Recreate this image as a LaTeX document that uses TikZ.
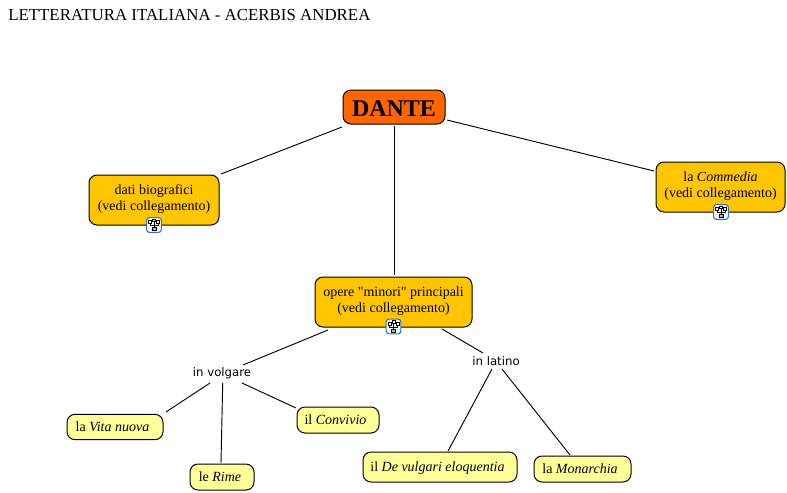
\documentclass[tikz,border=0pt]{standalone}
\usepackage{fontspec}
\setmainfont{Liberation Serif}
\newfontfamily\plainserif{Liberation Serif}
\newfontfamily\labfont{DejaVu Sans}
\usetikzlibrary{calc}
\definecolor{topfill}{HTML}{FF6600}
\definecolor{midfill}{HTML}{FFC600}
\definecolor{leaf}{HTML}{FFFF99}
\definecolor{iconblue}{HTML}{2F6FC0}
\newcommand{\dropstrut}{\rule[-3.5pt]{0pt}{1pt}}
\newcommand{\leafstrut}{\rule[-2.3pt]{0pt}{11.3pt}}
\tikzset{
 px/.style={x=0.75pt,y=-0.75pt},
 box/.style={draw=black,line width=0.75pt,rounded corners=6pt,align=center,inner sep=0pt,font=\fontsize{10.5pt}{12pt}\selectfont,text=black},
 mainbox/.style={box,fill=topfill,font=\fontsize{18pt}{20pt}\selectfont\bfseries},
 midbox/.style={box,fill=midfill},
 leafbox/.style={box,fill=leaf},
 lab/.style={font=\labfont\fontsize{8.8pt}{10pt}\selectfont,inner sep=1pt},
 link/.style={draw=black,line width=0.7pt},
 iconnode/.style={draw=iconblue,fill=white,line width=0.8pt,rounded corners=2pt,minimum width=11pt,minimum height=11pt,inner sep=0pt},
}
\newcommand{\orgicon}[2]{%
 \node[iconnode] (#1) at (#2) {};
 \draw[black,line width=0.4pt] ($(#1)+(0,-2pt)$) -- ($(#1)+(0,2.5pt)$) ($(#1)+(-3pt,1pt)$) -- ($(#1)+(-3pt,-0.5pt)$) -- ($(#1)+(3pt,-0.5pt)$) -- ($(#1)+(3pt,1pt)$);
 \draw[black,line width=0.4pt,fill=iconblue!50] ($(#1)+(-1.4pt,-4.2pt)$) rectangle ($(#1)+(1.4pt,-2pt)$);
 \draw[black,line width=0.4pt,fill=white] ($(#1)+(-4.2pt,1pt)$) rectangle ($(#1)+(-2pt,3.2pt)$) ($(#1)+(2pt,1pt)$) rectangle ($(#1)+(4.2pt,3.2pt)$) ($(#1)+(-1pt,2.5pt)$) rectangle ($(#1)+(1pt,4.4pt)$);
}
\begin{document}
\begin{tikzpicture}[px]
\useasboundingbox (0,0) rectangle (787,492);
\node[anchor=base west,inner sep=0pt,font=\fontsize{12.65pt}{14pt}\selectfont] (title) at (8,21) {LETTERATURA ITALIANA - ACERBIS ANDREA};

\node[mainbox,minimum width=76.5pt,minimum height=25.5pt] (dante) at (394,107) {\rule{0pt}{13.6pt}DANTE};
\node[midbox,minimum width=97.5pt,minimum height=37.5pt] (bio) at (154,200) {dati biografici\\(vedi collegamento)\dropstrut};
\node[midbox,minimum width=96.75pt,minimum height=37.5pt] (comm) at (720.5,187) {la \textit{Commedia}\\(vedi collegamento)\dropstrut};
\node[midbox,minimum width=117.75pt,minimum height=37.5pt] (opere) at (393.5,302) {opere {\plainserif"}minori{\plainserif"} principali\\(vedi collegamento)\dropstrut};
\node[lab] (volg) at (222,373) {in volgare};
\node[lab] (lat) at (496,361) {in latino};
\node[leafbox,minimum width=72pt,minimum height=19pt] (vita) at (115,427) {\leafstrut la \textit{Vita nuova}\hspace*{3.75pt}};
\node[leafbox,minimum width=48pt,minimum height=19.5pt] (rime) at (222,477) {\leafstrut le \textit{Rime}\hspace*{3pt}};
\node[leafbox,minimum width=61.5pt,minimum height=19.5pt] (conv) at (338,420) {\leafstrut il \textit{Convivio}\hspace*{3.75pt}};
\node[leafbox,minimum width=115.5pt,minimum height=22.5pt] (dev) at (440,467) {\leafstrut il \textit{De vulgari eloquentia}\hspace*{3.75pt}};
\node[leafbox,minimum width=72.75pt,minimum height=19.5pt] (mon) at (582.5,469) {\leafstrut la \textit{Monarchia}\hspace*{3.75pt}};

\coordinate (dB) at (342,127);
\coordinate (bD) at (221,174);
\coordinate (dC) at (447,120);
\coordinate (cD) at (654,171);
\coordinate (dO) at (394,126);
\coordinate (oD) at (394,275);
\coordinate (oV) at (328,330);
\coordinate (vO) at (243,365);
\coordinate (oL) at (442,329);
\coordinate (lO) at (483,353);
\coordinate (vA) at (210,383);
\coordinate (aV) at (166,412);
\coordinate (vB) at (222.7,383);
\coordinate (bV) at (221,463);
\coordinate (vC) at (242,383);
\coordinate (cV) at (296,408);
\coordinate (lA) at (492,369);
\coordinate (aL) at (448,451);
\coordinate (lB) at (502,369);
\coordinate (bL) at (570,455);

\draw[link] (dB) -- (bD);
\draw[link] (dC) -- (cD);
\draw[link] (dO) -- (oD);
\draw[link] (oV) -- (vO);
\draw[link] (oL) -- (lO);
\draw[link] (vA) -- (aV);
\draw[link] (vB) -- (bV);
\draw[link] (vC) -- (cV);
\draw[link] (lA) -- (aL);
\draw[link] (lB) -- (bL);

\orgicon{iconA}{154,225}
\orgicon{iconB}{721,212}
\orgicon{iconC}{393.5,326.5}
\end{tikzpicture}
\end{document}
